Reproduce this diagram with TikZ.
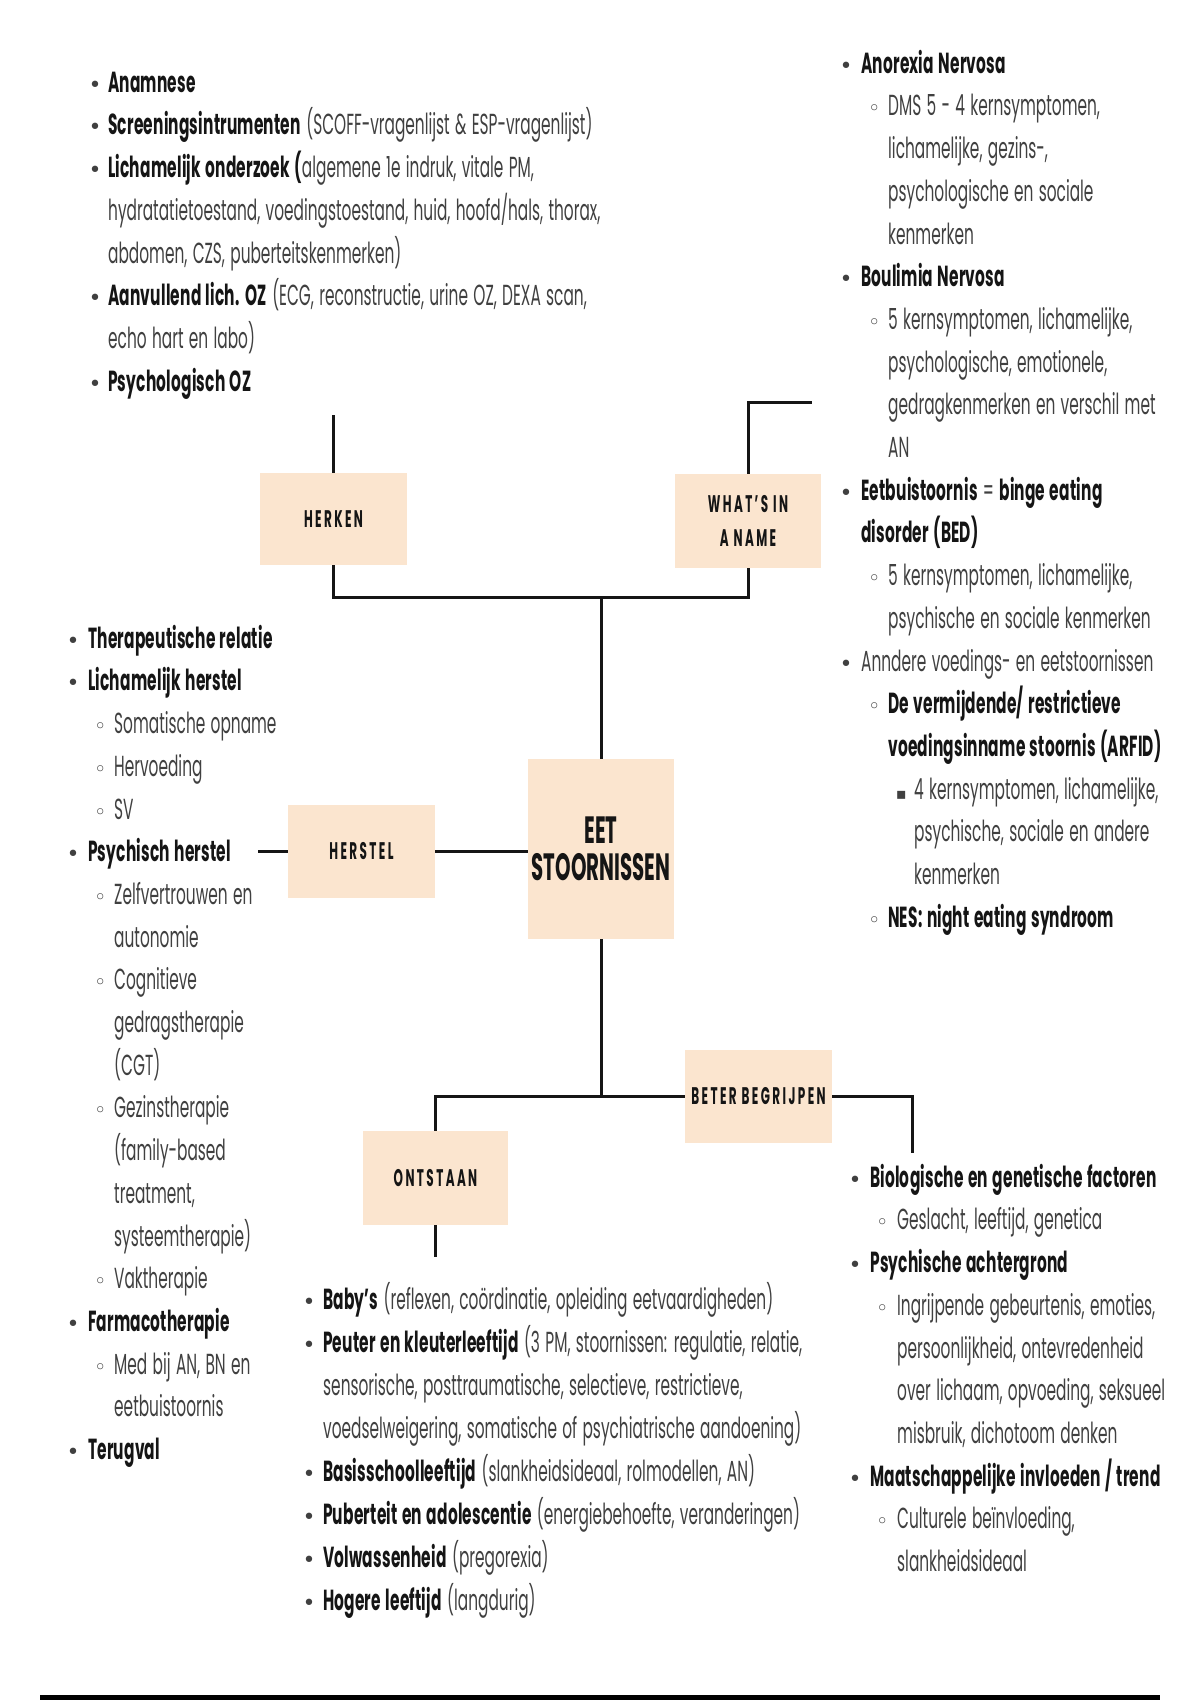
\documentclass[tikz,border=0pt]{standalone}
\usepackage{fontspec}
\setmainfont{Poppins}[FakeStretch=0.53,WordSpace=1.3,BoldFeatures={LetterSpace=0.7}]
\newfontfamily\lblf{Poppins}[FakeStretch=0.5,LetterSpace=10]
\newfontfamily\eetf{Poppins}[FakeStretch=0.52]
\newfontfamily\symf{DejaVu Sans}
\definecolor{peach}{HTML}{FBE5CF}
\definecolor{ink}{HTML}{151515}
\definecolor{greytxt}{HTML}{404040}
\newcommand\B[1]{{\bfseries\color{ink}#1}}
\newcommand\dotb{{\symf\fontsize{22}{22}\selectfont •}}
\newcommand\circb{{\symf\fontsize{21}{21}\selectfont ◦}}
\newcommand\sqb{{\symf\fontsize{16}{16}\selectfont ▪}}
\newcommand\Lb[4]{\hspace*{#1pt}\makebox[0pt]{#3}\hspace*{\dimexpr#2pt-#1pt\relax}#4}
\newcommand\Lc[2]{\hspace*{#1pt}#2}
\newcommand\first{\rule{0pt}{32pt}}
\begin{document}
\begin{tikzpicture}[x=1pt,y=-1pt,
  lblbox/.style={fill=peach, draw=none, inner sep=0pt, text=ink},
  linkline/.style={line width=3pt, draw=ink},
  txtblock/.style={anchor=north west, inner sep=0pt, align=left, text=greytxt, font=\fontsize{29}{42.7}\selectfont}]
\useasboundingbox[fill=white] (0,0) rectangle (1200,1700);

% ---- boxes
\node[lblbox, minimum width=147pt, minimum height=92pt, font=\lblf\bfseries\fontsize{24}{24}\selectfont] (herken) at (333.5,519) {HERKEN};
\node[lblbox, minimum width=146pt, minimum height=94pt, align=center, font=\lblf\bfseries\fontsize{24}{34}\selectfont] (whats) at (748,521) {WHAT’S IN\\A NAME};
\node[lblbox, minimum width=147pt, minimum height=93pt, font=\lblf\bfseries\fontsize{24}{24}\selectfont] (herstel) at (361.5,851.5) {HERSTEL};
\node[lblbox, minimum width=146pt, minimum height=180pt, align=center, font=\eetf\bfseries\fontsize{38}{37}\selectfont] (eet) at (601,849) {EET\\STOORNISSEN};
\node[lblbox, minimum width=147pt, minimum height=93pt, font=\lblf\bfseries\fontsize{24}{24}\selectfont] (beter) at (758.5,1096.5) {BETER BEGRIJPEN};
\node[lblbox, minimum width=145pt, minimum height=94pt, font=\lblf\bfseries\fontsize{24}{24}\selectfont] (ontstaan) at (435.5,1178) {ONTSTAAN};

% ---- free ends
\coordinate (herkentop) at (333.5,415);
\coordinate (whatstop) at (812,402);
\coordinate (herstelleft) at (258,851.5);
\coordinate (beterdown) at (912,1153);
\coordinate (ontstaandown) at (435.5,1257);
\coordinate (junction) at (601,597);

% ---- connectors
\draw[linkline] (herken.north) -- (herkentop);
\draw[linkline] (herken.south) |- (junction) -| (whats.south);
\draw[linkline] (junction) -- (eet.north);
\draw[linkline] (whats.north) |- (whatstop);
\draw[linkline] (herstel.west) -- (herstelleft);
\draw[linkline] (herstel.east) -- (eet.west |- herstel.east);
\draw[linkline] (eet.south) -- (eet.south |- beter.west);
\draw[linkline] (ontstaan.north) |- (beter.west);
\draw[linkline] (beter.east) -| (beterdown);
\draw[linkline] (ontstaan.south) -- (ontstaandown);

% ---- HERKEN list
\node[txtblock] (herkenlist) at (85,60) {%
\first\Lb{10}{23}{\dotb}{\B{Anamnese}}\\
\Lb{10}{23}{\dotb}{\B{Screeningsintrumenten} (SCOFF-vragenlijst \& ESP-vragenlijst)}\\
\Lb{10}{23}{\dotb}{\B{Lichamelijk onderzoek (}algemene 1e indruk, vitale PM,}\\
\Lc{23}{hydratatietoestand, voedingstoestand, huid, hoofd/hals, thorax,}\\
\Lc{23}{abdomen, CZS, puberteitskenmerken)}\\
\Lb{10}{23}{\dotb}{\B{Aanvullend lich. OZ} (ECG, reconstructie, urine OZ, DEXA scan,}\\
\Lc{23}{echo hart en labo)}\\
\Lb{10}{23}{\dotb}{\B{Psychologisch OZ}}};

% ---- WHAT'S IN A NAME list
\node[txtblock] (whatslist) at (834,41) {%
\first\Lb{12}{27}{\dotb}{\B{Anorexia Nervosa}}\\
\Lb{40}{54}{\circb}{DMS 5 - 4 kernsymptomen,}\\
\Lc{54}{lichamelijke, gezins-,}\\
\Lc{54}{psychologische en sociale}\\
\Lc{54}{kenmerken}\\
\Lb{12}{27}{\dotb}{\B{Boulimia Nervosa}}\\
\Lb{40}{54}{\circb}{5 kernsymptomen, lichamelijke,}\\
\Lc{54}{psychologische, emotionele,}\\
\Lc{54}{gedragkenmerken en verschil met}\\
\Lc{54}{AN}\\
\Lb{12}{27}{\dotb}{\B{Eetbuistoornis} = \B{binge eating}}\\
\Lc{27}{\B{disorder (BED)}}\\
\Lb{40}{54}{\circb}{5 kernsymptomen, lichamelijke,}\\
\Lc{54}{psychische en sociale kenmerken}\\
\Lb{12}{27}{\dotb}{Anndere voedings- en eetstoornissen}\\
\Lb{40}{54}{\circb}{\B{De vermijdende/ restrictieve}}\\
\Lc{54}{\B{voedingsinname stoornis (ARFID)}}\\
\Lb{67}{80}{\sqb}{4 kernsymptomen, lichamelijke,}\\
\Lc{80}{psychische, sociale en andere}\\
\Lc{80}{kenmerken}\\
\Lb{40}{54}{\circb}{\B{NES: night eating syndroom}}};

% ---- HERSTEL list
\node[txtblock] (herstellist) at (63,616) {%
\first\Lb{10}{25}{\dotb}{\B{Therapeutische relatie}}\\
\Lb{10}{25}{\dotb}{\B{Lichamelijk herstel}}\\
\Lb{37}{51}{\circb}{Somatische opname}\\
\Lb{37}{51}{\circb}{Hervoeding}\\
\Lb{37}{51}{\circb}{SV}\\
\Lb{10}{25}{\dotb}{\B{Psychisch herstel}}\\
\Lb{37}{51}{\circb}{Zelfvertrouwen en}\\
\Lc{51}{autonomie}\\
\Lb{37}{51}{\circb}{Cognitieve}\\
\Lc{51}{gedragstherapie}\\
\Lc{51}{(CGT)}\\
\Lb{37}{51}{\circb}{Gezinstherapie}\\
\Lc{51}{(family-based}\\
\Lc{51}{treatment,}\\
\Lc{51}{systeemtherapie)}\\
\Lb{37}{51}{\circb}{Vaktherapie}\\
\Lb{10}{25}{\dotb}{\B{Farmacotherapie}}\\
\Lb{37}{51}{\circb}{Med bij AN, BN en}\\
\Lc{51}{eetbuistoornis}\\
\Lb{10}{25}{\dotb}{\B{Terugval}}};

% ---- ONTSTAAN list
\node[txtblock, font=\fontsize{29}{43}\selectfont] (ontstaanlist) at (299,1277) {%
\first\Lb{10}{24}{\dotb}{\B{Baby’s} (reflexen, coördinatie, opleiding eetvaardigheden)}\\
\Lb{10}{24}{\dotb}{\B{Peuter en kleuterleeftijd} (3 PM, stoornissen: regulatie, relatie,}\\
\Lc{24}{sensorische, posttraumatische, selectieve, restrictieve,}\\
\Lc{24}{voedselweigering, somatische of psychiatrische aandoening)}\\
\Lb{10}{24}{\dotb}{\B{Basisschoolleeftijd} (slankheidsideaal, rolmodellen, AN)}\\
\Lb{10}{24}{\dotb}{\B{Puberteit en adolescentie} (energiebehoefte, veranderingen)}\\
\Lb{10}{24}{\dotb}{\B{Volwassenheid} (pregorexia)}\\
\Lb{10}{24}{\dotb}{\B{Hogere leeftijd} (langdurig)}};

% ---- BETER BEGRIJPEN list
\node[txtblock] (beterlist) at (845,1155) {%
\first\Lb{10}{25}{\dotb}{\B{Biologische en genetische factoren}}\\
\Lb{37}{52}{\circb}{Geslacht, leeftijd, genetica}\\
\Lb{10}{25}{\dotb}{\B{Psychische achtergrond}}\\
\Lb{37}{52}{\circb}{Ingrijpende gebeurtenis, emoties,}\\
\Lc{52}{persoonlijkheid, ontevredenheid}\\
\Lc{52}{over lichaam, opvoeding, seksueel}\\
\Lc{52}{misbruik, dichotoom denken}\\
\Lb{10}{25}{\dotb}{\B{Maatschappelijke invloeden / trend}}\\
\Lb{37}{52}{\circb}{Culturele beïnvloeding,}\\
\Lc{52}{slankheidsideaal}};

% ---- bottom rule
\coordinate (rulel) at (40,1697.5);
\coordinate (ruler) at (1160,1697.5);
\draw[line width=5pt, draw=black] (rulel) -- (ruler);
\end{tikzpicture}
\end{document}
